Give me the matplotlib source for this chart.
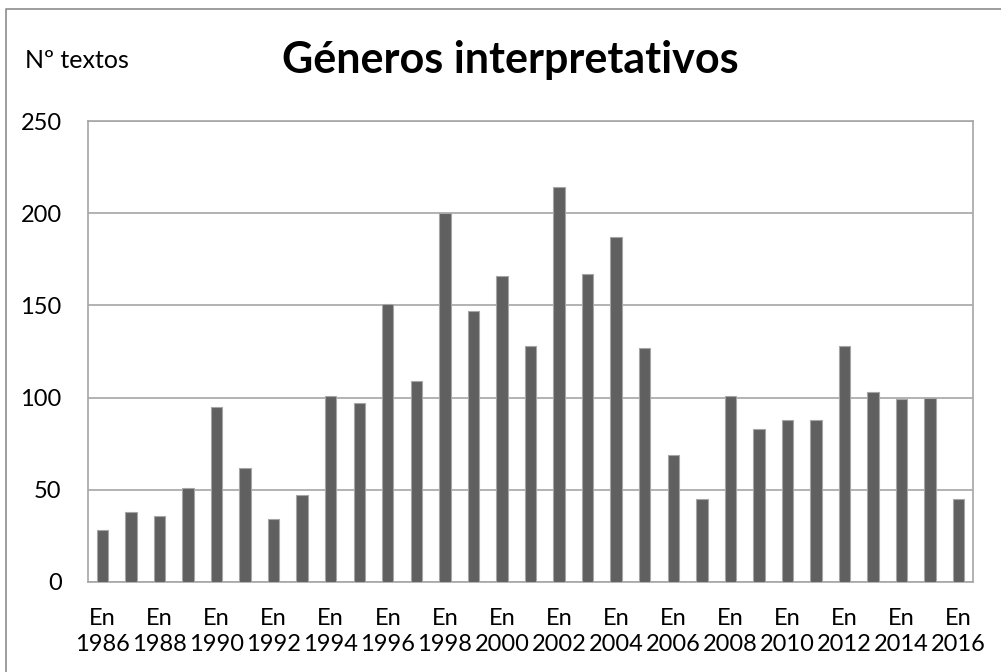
import matplotlib.pyplot as plt
from matplotlib.lines import Line2D

# ---------- data
years = list(range(1986, 2017))
textos = [28, 38, 36, 51, 95, 62, 34, 47, 101, 97,
          151, 109, 200, 147, 166, 128, 214, 167, 187, 127,
          69, 45, 101, 83, 88, 88, 128, 103, 99, 100, 45]
y_ticks = [0, 50, 100, 150, 200, 250]

plt.rcParams['font.family'] = ['Lato', 'DejaVu Sans']

W, H = 1001, 672
fig = plt.figure(figsize=(W / 100, H / 100), dpi=100)

# outer frame (only top and left visible)
fig.add_artist(Line2D([6 / W, 6 / W, 1.0], [0.0, 1 - 9 / H, 1 - 9 / H],
                      transform=fig.transFigure, color='#8c8c8c', lw=1.2))

ax = fig.add_axes([88 / W, (H - 582) / H, 885 / W, 461 / H])
x = list(range(len(years)))
ax.bar(x, textos, width=0.4, color='#606060', edgecolor='#a6a6a6', linewidth=0.8, zorder=3)

ax.set_xlim(-0.5, len(years) - 0.5)
ax.set_ylim(0, 250)
ax.set_yticks(y_ticks)
ax.set_yticklabels([str(v) for v in y_ticks], fontsize=17)
ax.yaxis.grid(True, color='#a6a6a6', linewidth=1.2, zorder=0)

ax.set_xticks(x[::2])
ax.set_xticklabels(['En\n%d' % y for y in years[::2]], fontsize=17, linespacing=1.25)
ax.tick_params(axis='both', length=0)
ax.tick_params(axis='x', pad=19)
ax.tick_params(axis='y', pad=19)

for s in ax.spines.values():
    s.set_color('#a6a6a6')
    s.set_linewidth(1.2)

fig.text(25 / W, 1 - 68 / H, 'Nº textos', fontsize=18, va='baseline', ha='left')
fig.text(510 / W, 1 - 73 / H, 'Géneros interpretativos', fontsize=31,
         fontweight='bold', va='baseline', ha='center')

plt.savefig('out.png', dpi=100)
